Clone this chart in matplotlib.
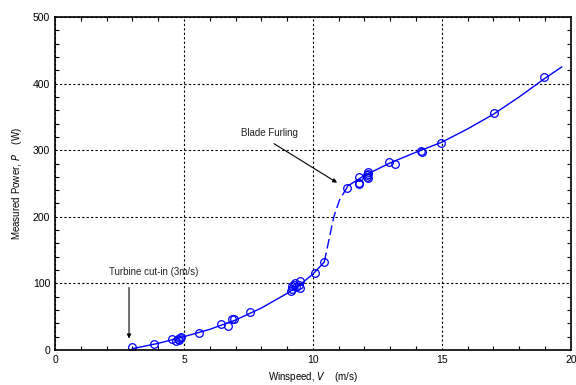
import numpy as np
import matplotlib.pyplot as plt
from matplotlib.ticker import MultipleLocator

plt.rcParams['font.family'] = ['Liberation Sans', 'DejaVu Sans']

# measured points (wind speed m/s, power W)
speed = [3.0, 3.85, 4.55, 4.7, 4.75, 4.8, 4.85, 4.9, 5.6, 6.45, 6.7, 6.85, 6.93, 7.55,
         9.15, 9.2, 9.2, 9.25, 9.3, 9.35, 9.45, 9.5, 9.5, 10.07, 10.44,
         11.34, 11.78, 11.78, 11.8, 12.1, 12.12, 12.15, 12.15, 12.1,
         12.96, 13.2, 14.2, 14.22, 14.98, 17.04, 18.95]
power = [4, 9, 16, 14, 17, 15, 18, 20, 25, 39, 36, 46, 46, 57,
         88, 92, 96, 98, 100, 95, 97, 103, 93, 116, 132,
         243, 260, 251, 249, 262, 265, 268, 258, 260,
         282, 280, 299, 297, 311, 356, 410]

# fitted curve
fit1_v = [3.0, 4.0, 5.0, 6.0, 7.0, 8.0, 9.0, 9.5, 10.0, 10.44]
fit1_p = [2, 10, 20, 31, 45, 63, 85, 98, 114, 132]
fit2_v = [10.44, 10.81, 11.04, 11.34]
fit2_p = [132, 200, 226, 245]
fit3_v = [11.34, 12.0, 13.0, 14.0, 15.0, 16.0, 17.0, 18.0, 19.0, 19.65]
fit3_p = [246, 262, 281, 297, 312, 332, 354, 380, 408, 425]

fig = plt.figure(figsize=(5.76, 3.85), dpi=100)
ax = fig.add_axes([0.0955, 0.0909, 0.8955, 0.865])

ax.plot(fit1_v, fit1_p, color='blue', lw=1)
ax.plot(fit2_v, fit2_p, color='blue', lw=1, linestyle=(0, (7, 3)))
ax.plot(fit3_v, fit3_p, color='blue', lw=1)
ax.plot(speed, power, 'o', mfc='none', mec='blue', ms=5.5, mew=0.9)

ax.set_xlim(0, 20)
ax.set_ylim(0, 500)
ax.xaxis.set_major_locator(MultipleLocator(5))
ax.xaxis.set_minor_locator(MultipleLocator(1))
ax.yaxis.set_major_locator(MultipleLocator(100))
ax.yaxis.set_minor_locator(MultipleLocator(20))
ax.tick_params(which='both', direction='in', top=True, right=True, labelsize=7.5, width=0.8)
ax.tick_params(which='major', length=0)
ax.tick_params(which='minor', length=3)
ax.grid(True, which='major', color='k', linestyle=(0, (2, 2)), linewidth=0.8)
for s in ax.spines.values():
    s.set_linewidth(1.2)

ax.set_xlabel(r'Winspeed, $\it{V}$    (m/s)', fontsize=7)
ax.set_ylabel(r'Measured Power, $\it{P}$    (W)', fontsize=7, labelpad=6)

ax.annotate('', xy=(2.87, 13), xytext=(2.87, 98),
            arrowprops=dict(arrowstyle='-|>', color='k', lw=0.8, mutation_scale=6))
ax.text(2.1, 112, 'Turbine cut-in (3m/s)', fontsize=7, color='#222222')
ax.annotate('', xy=(11.03, 249), xytext=(8.4, 312),
            arrowprops=dict(arrowstyle='-|>', color='k', lw=0.8, mutation_scale=6))
ax.text(7.2, 322, 'Blade Furling', fontsize=7, color='#222222')

fig.savefig('out.png', dpi=100)
